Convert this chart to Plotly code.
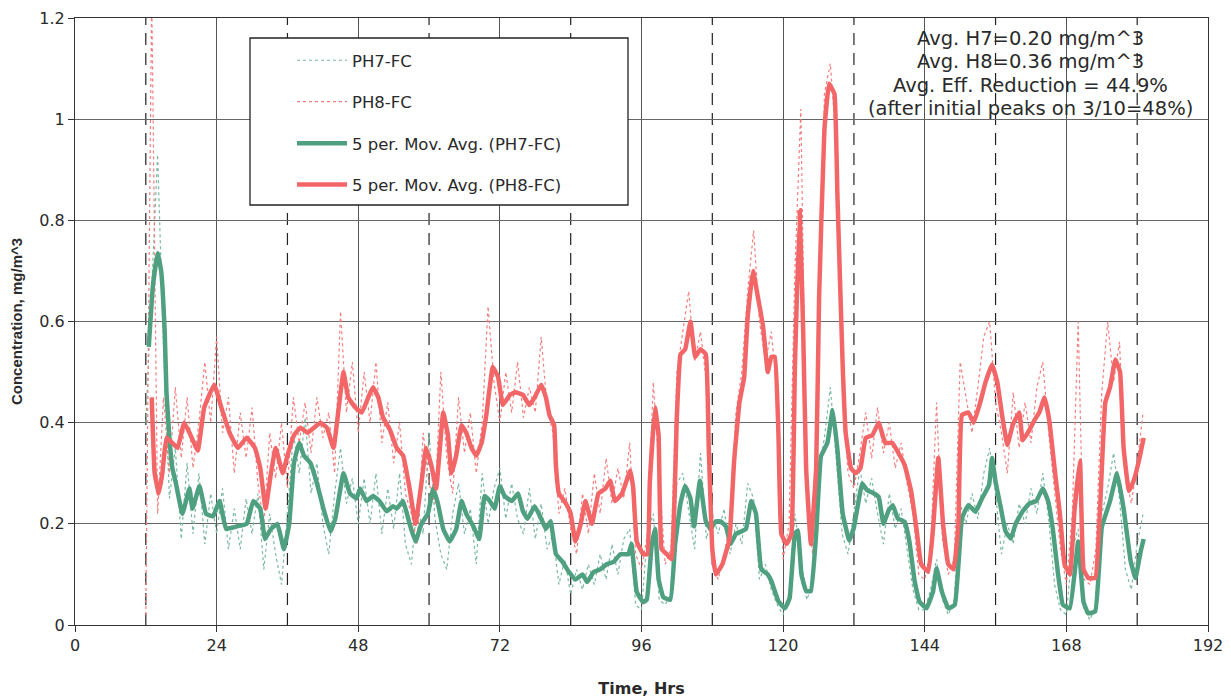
import plotly.graph_objects as go

# ---------------- data ----------------
raw_hours = list(range(12, 182))

ph8_raw = [0.02, 1.25, 0.22, 0.45, 0.30, 0.47, 0.33, 0.45, 0.31, 0.40,
           0.52, 0.40, 0.57, 0.38, 0.45, 0.30, 0.42, 0.33, 0.43, 0.28,
           0.20, 0.38, 0.29, 0.40, 0.27, 0.45, 0.36, 0.44, 0.34, 0.45,
           0.37, 0.42, 0.30, 0.62, 0.42, 0.52, 0.38, 0.50, 0.40, 0.52,
           0.36, 0.44, 0.32, 0.40, 0.26, 0.22, 0.16, 0.38, 0.28, 0.24,
           0.50, 0.33, 0.26, 0.45, 0.34, 0.42, 0.30, 0.40, 0.63, 0.48,
           0.40, 0.50, 0.42, 0.52, 0.41, 0.47, 0.42, 0.57, 0.43, 0.38,
           0.22, 0.27, 0.19, 0.14, 0.26, 0.18, 0.30, 0.22, 0.33, 0.24,
           0.31, 0.25, 0.36, 0.14, 0.11, 0.18, 0.48, 0.30, 0.12, 0.15,
           0.50, 0.58, 0.66, 0.52, 0.58, 0.48, 0.12, 0.09, 0.14, 0.20,
           0.42, 0.50, 0.66, 0.78, 0.60, 0.52, 0.58, 0.46, 0.13, 0.20,
           0.70, 1.02, 0.26, 0.14, 0.50, 1.05, 1.11, 0.95, 0.48, 0.30,
           0.27, 0.34, 0.42, 0.33, 0.43, 0.34, 0.40, 0.31, 0.36, 0.28,
           0.22, 0.10, 0.09, 0.15, 0.44, 0.17, 0.10, 0.13, 0.52, 0.45,
           0.38, 0.47, 0.57, 0.60, 0.44, 0.38, 0.30, 0.46, 0.35, 0.44,
           0.36, 0.47, 0.52, 0.38, 0.27, 0.15, 0.08, 0.22, 0.60, 0.09,
           0.08, 0.15, 0.46, 0.60, 0.48, 0.56, 0.30, 0.24, 0.32, 0.42]

ph7_raw = [0.40, 0.65, 0.93, 0.55, 0.25, 0.35, 0.17, 0.32, 0.18, 0.30,
           0.16, 0.26, 0.18, 0.27, 0.15, 0.23, 0.15, 0.25, 0.18, 0.26,
           0.11, 0.22, 0.14, 0.08, 0.22, 0.38, 0.30, 0.41, 0.26, 0.32,
           0.20, 0.14, 0.26, 0.35, 0.24, 0.29, 0.20, 0.29, 0.20, 0.30,
           0.18, 0.27, 0.19, 0.30, 0.16, 0.12, 0.24, 0.18, 0.38, 0.21,
           0.14, 0.11, 0.22, 0.28, 0.18, 0.23, 0.12, 0.30, 0.20, 0.27,
           0.31, 0.21, 0.28, 0.21, 0.18, 0.27, 0.17, 0.24, 0.15, 0.18,
           0.08, 0.13, 0.06, 0.11, 0.07, 0.12, 0.08, 0.14, 0.09, 0.16,
           0.10, 0.17, 0.19, 0.04, 0.03, 0.18, 0.22, 0.05, 0.04, 0.06,
           0.28, 0.30, 0.22, 0.15, 0.34, 0.17, 0.22, 0.18, 0.23, 0.14,
           0.20, 0.16, 0.28, 0.25, 0.09, 0.12, 0.07, 0.04, 0.02, 0.06,
           0.22, 0.14, 0.05, 0.08, 0.30, 0.37, 0.47, 0.33, 0.18, 0.14,
           0.22, 0.31, 0.24, 0.29, 0.22, 0.16, 0.26, 0.19, 0.23, 0.15,
           0.07, 0.03, 0.03, 0.07, 0.13, 0.05, 0.02, 0.05, 0.24, 0.20,
           0.26, 0.21, 0.30, 0.35, 0.26, 0.14, 0.20, 0.16, 0.24, 0.20,
           0.27, 0.22, 0.30, 0.21, 0.08, 0.03, 0.02, 0.15, 0.19, 0.03,
           0.01, 0.04, 0.22, 0.27, 0.34, 0.25, 0.11, 0.07, 0.16, 0.22]

ph8_ma_hours = [13.0, 13.5, 14.2, 14.8, 15.5, 16.5, 17.4, 18.5, 19.4, 20.8,
                21.9, 23.6, 24.8, 26.2, 27.6, 29.1, 30.5, 31.4, 32.3, 33.2,
                34.0, 35.2, 36.0, 37.1, 38.2, 39.4, 40.5, 41.6, 42.7, 43.8,
                44.7, 45.5, 46.3, 47.5, 48.6, 49.7, 50.5, 51.4, 52.2, 53.4,
                54.5, 55.6, 56.7, 57.7, 58.7, 59.5, 60.4, 61.2, 62.4, 63.2,
                63.8, 64.6, 65.5, 66.3, 67.2, 68.0, 68.9, 69.7, 70.8, 71.7,
                72.5, 73.7, 74.6, 75.9, 77.0, 77.9, 79.0, 79.8, 80.4, 81.2,
                81.5, 82.0, 83.2, 84.0, 84.8, 85.7, 86.5, 87.6, 88.7, 89.9,
                90.7, 91.5, 92.7, 94.1, 94.6, 95.2, 96.3, 97.0, 97.4, 98.3,
                98.9, 99.4, 100.3, 101.1, 102.0, 102.6, 103.4, 104.3, 105.1, 106.0,
                106.9, 107.4, 108.0, 108.6, 109.7, 110.9, 111.7, 112.6, 113.4, 114.0,
                114.9, 115.7, 116.6, 117.4, 118.0, 118.6, 119.2, 119.7, 120.6, 121.4,
                122.0, 122.8, 123.4, 123.9, 124.7, 125.6, 126.1, 127.0, 127.8, 128.7,
                129.2, 130.1, 130.6, 131.5, 132.3, 133.1, 134.0, 135.1, 136.2, 137.3,
                138.5, 139.4, 140.6, 141.7, 142.6, 143.4, 144.6, 145.4, 146.3, 147.1,
                148.0, 148.9, 149.7, 150.3, 151.4, 152.3, 153.4, 154.3, 155.4, 156.3,
                157.1, 158.0, 158.9, 160.0, 160.6, 161.7, 162.6, 163.4, 164.3, 165.1,
                166.0, 166.9, 167.7, 168.6, 169.4, 170.3, 170.9, 171.7, 172.9, 173.7,
                174.6, 175.4, 176.3, 177.1, 177.7, 178.6, 179.4, 180.3, 181.1]
ph8_ma = [0.45, 0.30, 0.26, 0.30, 0.37, 0.36, 0.35, 0.40, 0.38, 0.345,
          0.43, 0.475, 0.43, 0.38, 0.35, 0.37, 0.35, 0.31, 0.23, 0.30,
          0.35, 0.30, 0.335, 0.375, 0.39, 0.38, 0.39, 0.40, 0.39, 0.35,
          0.43, 0.50, 0.45, 0.43, 0.42, 0.45, 0.47, 0.45, 0.41, 0.385,
          0.35, 0.335, 0.27, 0.20, 0.28, 0.35, 0.315, 0.27, 0.42, 0.375,
          0.30, 0.335, 0.395, 0.38, 0.35, 0.335, 0.36, 0.415, 0.51, 0.49,
          0.435, 0.455, 0.46, 0.455, 0.435, 0.45, 0.475, 0.45, 0.415, 0.395,
          0.315, 0.26, 0.24, 0.22, 0.165, 0.20, 0.245, 0.20, 0.26, 0.27,
          0.285, 0.245, 0.26, 0.305, 0.27, 0.165, 0.14, 0.14, 0.28, 0.43,
          0.375, 0.15, 0.14, 0.13, 0.415, 0.535, 0.545, 0.60, 0.53, 0.545,
          0.535, 0.35, 0.15, 0.10, 0.12, 0.17, 0.325, 0.44, 0.49, 0.61,
          0.70, 0.65, 0.59, 0.50, 0.53, 0.53, 0.38, 0.18, 0.16, 0.18,
          0.51, 0.82, 0.58, 0.31, 0.16, 0.31, 0.65, 0.98, 1.07, 1.05,
          0.85, 0.51, 0.38, 0.31, 0.30, 0.31, 0.37, 0.375, 0.40, 0.36,
          0.36, 0.343, 0.316, 0.264, 0.19, 0.12, 0.105, 0.19, 0.33, 0.20,
          0.12, 0.11, 0.20, 0.415, 0.42, 0.40, 0.44, 0.48, 0.515, 0.48,
          0.415, 0.356, 0.395, 0.42, 0.365, 0.385, 0.405, 0.42, 0.45, 0.405,
          0.31, 0.22, 0.12, 0.10, 0.23, 0.325, 0.11, 0.093, 0.093, 0.23,
          0.44, 0.47, 0.525, 0.50, 0.35, 0.265, 0.285, 0.325, 0.37]

ph7_ma_hours = [12.5, 13.2, 14.0, 14.6, 15.2, 15.5, 16.0, 16.5, 17.1, 18.2,
                19.4, 19.9, 21.1, 22.2, 23.4, 24.5, 25.6, 27.4, 29.1, 30.2,
                31.4, 32.2, 33.2, 34.3, 35.4, 36.3, 37.1, 38.0, 38.8, 39.9,
                41.0, 42.1, 43.3, 44.1, 45.5, 46.6, 47.7, 48.3, 49.4, 50.5,
                51.6, 52.8, 53.9, 54.5, 55.6, 56.7, 57.7, 58.7, 59.8, 60.7,
                61.5, 62.4, 63.5, 64.6, 65.5, 66.3, 67.5, 68.5, 69.4, 70.3,
                71.1, 72.0, 72.8, 74.0, 75.1, 75.9, 76.7, 77.9, 79.0, 79.8,
                80.6, 81.5, 82.6, 83.7, 84.8, 86.0, 86.8, 87.9, 89.0, 90.1,
                91.3, 92.4, 93.8, 94.3, 95.2, 96.3, 96.9, 97.7, 98.3, 98.9,
                99.7, 100.9, 101.7, 102.6, 103.4, 104.3, 104.9, 105.9, 106.9, 107.7,
                108.6, 109.4, 110.3, 111.1, 112.0, 112.9, 113.7, 114.6, 115.4, 116.3,
                117.4, 118.0, 119.2, 120.3, 121.1, 122.0, 122.5, 123.1, 123.9, 124.7,
                125.6, 126.4, 127.5, 128.4, 129.2, 130.1, 131.2, 132.0, 133.4, 134.2,
                135.4, 136.2, 137.0, 137.9, 138.6, 139.4, 140.6, 141.4, 142.3, 143.1,
                144.3, 145.4, 146.0, 146.9, 148.0, 149.1, 150.3, 151.4, 152.6, 153.7,
                154.9, 155.4, 156.0, 156.9, 157.7, 158.6, 159.4, 160.6, 161.7, 162.9,
                164.0, 164.9, 165.7, 166.6, 167.4, 168.6, 170.0, 170.9, 171.7, 172.9,
                174.0, 175.4, 176.6, 177.7, 178.9, 179.7, 180.6, 181.1]
ph7_ma = [0.55, 0.67, 0.735, 0.70, 0.58, 0.46, 0.37, 0.31, 0.28, 0.22,
          0.27, 0.23, 0.275, 0.22, 0.215, 0.245, 0.19, 0.195, 0.20, 0.245,
          0.23, 0.17, 0.19, 0.20, 0.15, 0.20, 0.32, 0.36, 0.335, 0.32,
          0.28, 0.23, 0.185, 0.21, 0.30, 0.26, 0.25, 0.27, 0.245, 0.255,
          0.245, 0.225, 0.235, 0.23, 0.245, 0.20, 0.165, 0.20, 0.22, 0.27,
          0.24, 0.19, 0.165, 0.19, 0.245, 0.22, 0.195, 0.17, 0.255, 0.245,
          0.23, 0.275, 0.255, 0.245, 0.26, 0.225, 0.21, 0.235, 0.21, 0.19,
          0.205, 0.14, 0.125, 0.105, 0.09, 0.10, 0.085, 0.105, 0.11, 0.12,
          0.125, 0.14, 0.14, 0.16, 0.065, 0.045, 0.05, 0.155, 0.19, 0.09,
          0.055, 0.05, 0.16, 0.24, 0.275, 0.25, 0.195, 0.285, 0.205, 0.19,
          0.205, 0.205, 0.195, 0.16, 0.18, 0.185, 0.19, 0.245, 0.22, 0.11,
          0.10, 0.087, 0.047, 0.033, 0.053, 0.18, 0.187, 0.10, 0.067, 0.067,
          0.18, 0.333, 0.36, 0.425, 0.347, 0.22, 0.167, 0.193, 0.28, 0.267,
          0.26, 0.253, 0.20, 0.227, 0.237, 0.211, 0.204, 0.165, 0.086, 0.046,
          0.033, 0.066, 0.112, 0.066, 0.033, 0.04, 0.211, 0.237, 0.224, 0.25,
          0.277, 0.33, 0.283, 0.231, 0.185, 0.171, 0.20, 0.225, 0.24, 0.245,
          0.27, 0.245, 0.19, 0.10, 0.04, 0.033, 0.165, 0.046, 0.023, 0.027,
          0.193, 0.245, 0.30, 0.23, 0.126, 0.093, 0.146, 0.17]

x_ticks = [0, 24, 48, 72, 96, 120, 144, 168, 192]
y_ticks = [0, 0.2, 0.4, 0.6, 0.8, 1.0, 1.2]
dashed_hours = [12, 36, 60, 84, 108, 132, 156, 180]

note_lines = ["Avg. H7=0.20 mg/m^3", "Avg. H8=0.36 mg/m^3",
              "Avg. Eff. Reduction = 44.9%", "(after initial peaks on 3/10=48%)"]

# ---------------- styling ----------------
GREEN = "rgb(78,160,128)"
RED = "rgb(243,102,104)"
GREEN_L = "rgb(120,185,160)"
RED_L = "rgb(246,125,125)"
FONT = "Liberation Sans, Arial, sans-serif"
WFONT = "DejaVu Sans, Verdana, sans-serif"
TXT = "#2a2a2a"

L, R, T, B = 75, 23, 18, 73
W, H = 1231, 698
PW, PH = W - L - R, H - T - B


def px_x(px):
    return (px - L) / PW


def px_y(py):
    return 1 - (py - T) / PH


fig = go.Figure()
fig.add_trace(go.Scatter(x=raw_hours, y=ph7_raw, mode="lines", name="PH7-FC",
                         legendgroup="a", line=dict(color=GREEN_L, width=1.2, dash="dot")))
fig.add_trace(go.Scatter(x=raw_hours, y=ph8_raw, mode="lines", name="PH8-FC",
                         legendgroup="b", line=dict(color=RED_L, width=1.2, dash="dot")))
fig.add_trace(go.Scatter(x=ph7_ma_hours, y=ph7_ma, mode="lines",
                         name="5 per. Mov. Avg. (PH7-FC)", legendgroup="c",
                         line=dict(color=GREEN, width=4.5, shape="spline", smoothing=0.3)))
fig.add_trace(go.Scatter(x=ph8_ma_hours, y=ph8_ma, mode="lines",
                         name="5 per. Mov. Avg. (PH8-FC)", legendgroup="d",
                         line=dict(color=RED, width=4.5, shape="spline", smoothing=0.3)))

for h in dashed_hours:
    fig.add_shape(type="line", xref="x", yref="y", x0=h, x1=h, y0=0, y1=1.2,
                  line=dict(color="#222222", width=1.2, dash="12px,8px"), layer="below")

# legend frame (white box with black border)
fig.add_shape(type="rect", xref="paper", yref="paper", x0=px_x(250), x1=px_x(628),
              y0=px_y(205), y1=px_y(38), fillcolor="white",
              line=dict(color="#222222", width=1.3), layer="above")

note_y = [38, 62, 85, 108]  # pixel rows of the text lines
for line, py in zip(note_lines, note_y):
    fig.add_annotation(xref="paper", yref="paper", x=px_x(1030), y=px_y(py),
                       yanchor="middle", xanchor="center", showarrow=False,
                       text=line, font=dict(family=WFONT, size=19.5, color=TXT))

fig.update_layout(
    width=W, height=H,
    margin=dict(l=L, r=R, t=T, b=B),
    paper_bgcolor="white", plot_bgcolor="white",
    font=dict(family=WFONT, size=16, color=TXT),
    showlegend=True,
    legend=dict(x=px_x(292), y=px_y(43), xanchor="left", yanchor="top",
                bgcolor="rgba(0,0,0,0)", borderwidth=0,
                font=dict(family=WFONT, size=16.5, color=TXT),
                tracegroupgap=17, itemwidth=50, traceorder="grouped"),
    xaxis=dict(range=[0, 192], tickvals=x_ticks, showgrid=True, automargin=False,
               gridcolor="#555555", gridwidth=1, zeroline=False,
               showline=True, linecolor="#333333", linewidth=1.2, mirror=True,
               ticks="outside", ticklen=6, tickcolor="#333333",
               tickfont=dict(family=WFONT, size=16),
               title=dict(text="<b>Time, Hrs</b>", font=dict(family=WFONT, size=16), standoff=28)),
    yaxis=dict(range=[0, 1.2], tickvals=y_ticks, showgrid=True, automargin=False,
               gridcolor="#666666", gridwidth=1, zeroline=False,
               showline=True, linecolor="#333333", linewidth=1.2, mirror=True,
               ticks="outside", ticklen=6, tickcolor="#333333",
               tickfont=dict(family=WFONT, size=16),
               title=dict(text="<b>Concentration, mg/m^3</b>",
                          font=dict(family=FONT, size=15), standoff=12)),
)

fig.write_html("out.html", config={"displayModeBar": False},
               post_script="document.body.style.margin='0px';")
